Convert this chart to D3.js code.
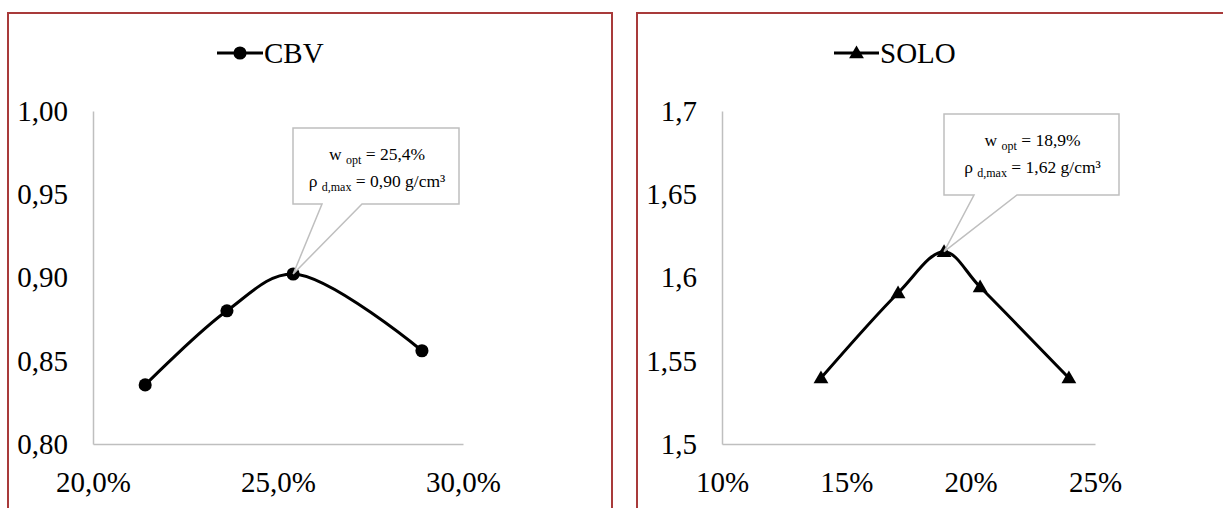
<!DOCTYPE html>
<html><head><meta charset="utf-8">
<script src="https://cdn.jsdelivr.net/npm/d3@7"></script>
<style>html,body{margin:0;padding:0;background:#fff;}svg{display:block;}</style>
</head><body>
<svg id="c" width="1223" height="508"></svg>
<script>
// ---- data ----
const cbvMoisture = [0.2141, 0.2362, 0.2541, 0.2889];
const cbvDensity  = [0.8355, 0.8800, 0.9021, 0.8560];
const cbvXTicks = [0.20, 0.25, 0.30];
const cbvXLabels = ["20,0%", "25,0%", "30,0%"];
const cbvYTicks = [0.80, 0.85, 0.90, 0.95, 1.00];
const cbvYLabels = ["0,80", "0,85", "0,90", "0,95", "1,00"];
const cbvNote = ["25,4%", "0,90 g/cm³"];

const soloMoisture = [0.1398, 0.1708, 0.1893, 0.2038, 0.2395];
const soloDensity  = [1.5396, 1.5907, 1.6155, 1.5943, 1.5396];
const soloXTicks = [0.10, 0.15, 0.20, 0.25];
const soloXLabels = ["10%", "15%", "20%", "25%"];
const soloYTicks = [1.50, 1.55, 1.60, 1.65, 1.70];
const soloYLabels = ["1,5", "1,55", "1,6", "1,65", "1,7"];
const soloNote = ["18,9%", "1,62 g/cm³"];

const FONT = "'Liberation Serif','Times New Roman',serif";
const svg = d3.select("#c");

function panel(cfg) {
  const g = svg.append("g");
  // frame
  g.append("rect").attr("x", cfg.frame[0]).attr("y", 13)
    .attr("width", cfg.frame[1] - cfg.frame[0]).attr("height", 520)
    .attr("fill", "none").attr("stroke", "#a83a3a").attr("stroke-width", 2);

  const x = d3.scaleLinear().domain(cfg.xDomain).range(cfg.xRange);
  const y = d3.scaleLinear().domain(cfg.yDomain).range([444, 111]);

  const ya = d3.axisLeft(y).tickValues(cfg.yTicks).tickSize(0).tickPadding(25)
    .tickFormat((d, i) => cfg.yLabels[i]);
  const gy = g.append("g").attr("transform", `translate(${cfg.xRange[0]},0)`).call(ya);
  const xa = d3.axisBottom(x).tickValues(cfg.xTicks).tickSize(0).tickPadding(27)
    .tickFormat((d, i) => cfg.xLabels[i]);
  const gx = g.append("g").attr("transform", `translate(0,444)`).call(xa);
  [gx, gy].forEach(a => {
    a.select(".domain").attr("stroke", "#bfbfbf").attr("stroke-width", 1.5);
    a.selectAll("text").attr("font-family", FONT).attr("font-size", 29).attr("fill", "#000");
  });

  const pts = cfg.xs.map((v, i) => [x(v), y(cfg.ys[i])]);
  g.append("path").attr("d", d3.line().curve(d3.curveCatmullRom.alpha(0.5))(pts))
    .attr("fill", "none").attr("stroke", "#000").attr("stroke-width", 3);

  const sym = d3.symbol().type(cfg.marker).size(cfg.marker === d3.symbolCircle ? 135 : 95);
  g.selectAll(".m").data(pts).enter().append("path")
    .attr("d", sym).attr("transform", d => `translate(${d[0]},${d[1] + (cfg.marker === d3.symbolCircle ? 0 : 1)})`)
    .attr("fill", "#000");

  // legend
  const L = cfg.legend;
  g.append("line").attr("x1", L[0]).attr("x2", L[1]).attr("y1", 53).attr("y2", 53)
    .attr("stroke", "#000").attr("stroke-width", 3);
  g.append("path").attr("d", sym).attr("transform", `translate(${(L[0] + L[1]) / 2},${cfg.marker === d3.symbolCircle ? 53 : 54})`);
  g.append("text").attr("x", L[1] + 1).attr("y", 63).attr("font-family", FONT)
    .attr("font-size", 29).text(cfg.name);

  // callout
  const b = cfg.box, tip = pts[cfg.peak];
  const path = `M${b.l},${b.t}H${b.r}V${b.b}H${b.p2}L${tip[0]},${tip[1]}L${b.p1},${b.b}H${b.l}Z`;
  g.append("path").attr("d", path).attr("fill", "#fff").attr("stroke", "#bfbfbf").attr("stroke-width", 1.5);
  const cx = (b.l + b.r) / 2 + 1;
  const t1 = g.append("text").attr("x", cx).attr("y", b.t + 32).attr("text-anchor", "middle")
    .attr("font-family", FONT).attr("font-size", 17.5);
  t1.append("tspan").text("w ");
  t1.append("tspan").attr("font-size", 12).attr("dy", 4).text("opt");
  t1.append("tspan").attr("dy", -4).text(" = " + cfg.note[0]);
  const t2 = g.append("text").attr("x", cx).attr("y", b.t + 59).attr("text-anchor", "middle")
    .attr("font-family", FONT).attr("font-size", 17.5);
  t2.append("tspan").text("ρ ");
  t2.append("tspan").attr("font-size", 12).attr("dy", 4).text("d,max");
  t2.append("tspan").attr("dy", -4).text(" = " + cfg.note[1]);
}

panel({
  frame: [8, 612], xDomain: [0.20, 0.30], xRange: [93, 463], yDomain: [0.80, 1.00],
  xTicks: cbvXTicks, xLabels: cbvXLabels, yTicks: cbvYTicks, yLabels: cbvYLabels,
  xs: cbvMoisture, ys: cbvDensity, marker: d3.symbolCircle, name: "CBV",
  legend: [217, 263], peak: 2, note: cbvNote,
  box: {l: 293, r: 459, t: 128, b: 204, p1: 322, p2: 362}
});
panel({
  frame: [637, 1226], xDomain: [0.10, 0.25], xRange: [722, 1095], yDomain: [1.50, 1.70],
  xTicks: soloXTicks, xLabels: soloXLabels, yTicks: soloYTicks, yLabels: soloYLabels,
  xs: soloMoisture, ys: soloDensity, marker: d3.symbolTriangle, name: "SOLO",
  legend: [834, 879], peak: 2, note: soloNote,
  box: {l: 944, r: 1119, t: 114, b: 195, p1: 974, p2: 1017}
});
</script>
</body></html>
